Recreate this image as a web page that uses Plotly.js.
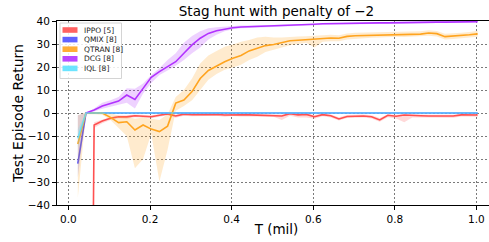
<!DOCTYPE html>
<html>
<head>
<meta charset="utf-8">
<script src="https://cdn.plot.ly/plotly-3.0.1.min.js"></script>
<style>
html, body { margin:0; padding:0; overflow:hidden; background:#fff; }
#chart { width:497px; height:242px; }
</style>
</head>
<body>
<div id="chart"></div>
<script>
// Sample times (millions of environment steps)
const T = [0.023,0.043,0.063,0.083,0.103,0.123,0.143,0.163,0.183,0.203,
           0.223,0.243,0.263,0.283,0.303,0.323,0.343,0.363,0.383,0.403,
           0.423,0.443,0.463,0.483,0.503,0.523,0.543,0.563,0.583,0.603,
           0.623,0.643,0.663,0.683,0.703,0.723,0.743,0.763,0.783,0.803,
           0.823,0.843,0.863,0.883,0.903,0.923,0.943,0.963,0.983,1.003];

const seriesNames = ["IPPO [5]", "QMIX [8]", "QTRAN [8]", "DCG [8]", "IQL [8]"];

const IPPO_mean  = [-450,-420,-5.2,-3.5,-2.3,-1.6,-1.7,-1.2,-1.4,-1.6,
                    -1.0,-0.4,-1.3,-0.5,-0.7,-0.6,-0.8,-0.6,-0.9,-0.7,
                    -0.8,-0.8,-0.9,-1.0,-0.9,-1.3,-0.3,-0.8,-0.6,-1.6,
                    -0.7,-1.2,-2.6,-1.5,-1.4,-1.3,-1.6,-3.0,-1.0,-1.4,
                    -0.9,-1.2,-1.2,-1.3,-1.3,-1.2,-1.3,-0.8,-0.9,-0.9];
const IPPO_upper = [-400,-380,-4.0,-2.8,-1.7,-1.0,-1.0,-0.6,-0.8,-1.0,
                    -0.5,0,-0.7,0,-0.2,-0.1,-0.3,-0.2,-0.4,-0.3,
                    -0.3,-0.3,-0.4,-0.5,-0.4,-0.6,0,-0.3,-0.2,-0.9,
                    -0.3,-0.6,-1.8,-0.9,-0.8,-0.7,-1.0,-2.2,-0.5,-0.8,
                    -0.4,-0.7,-0.7,-0.8,-0.8,-0.7,-0.8,-0.4,-0.5,-0.5];
const IPPO_lower = [-500,-460,-6.5,-4.5,-3.0,-2.3,-2.5,-1.9,-2.1,-2.3,
                    -1.6,-1.0,-2.1,-1.2,-1.4,-1.3,-1.5,-1.2,-1.6,-1.3,
                    -1.5,-1.5,-1.6,-1.8,-1.6,-3.0,-1.2,-2.0,-2.0,-2.5,
                    -1.4,-2.0,-3.3,-2.2,-2.1,-2.0,-2.4,-3.8,-1.8,-2.4,
                    -4.0,-2.0,-2.0,-2.1,-2.1,-2.0,-2.1,-1.5,-1.6,-1.6];

const QMIX_mean  = [-22,0,0,0,0,0,0,0,0,0, 0,0,0,0,0,0,0,0,0,0, 0,0,0,0,0,0,0,0,0,0, 0,0,0,0,0,0,0,0,0,0, 0,0,0,0,0,0,0,0,0,0];
const QMIX_upper = [-1,0,0,0,0,0,0,0,0,0, 0,0,0,0,0,0,0,0,0,0, 0,0,0,0,0,0,0,0,0,0, 0,0,0,0,0,0,0,0,0,0, 0,0,0,0,0,0,0,0,0,0];
const QMIX_lower = [-28,0,0,0,0,0,0,0,0,0, 0,0,0,0,0,0,0,0,0,0, 0,0,0,0,0,0,0,0,0,0, 0,0,0,0,0,0,0,0,0,0, 0,0,0,0,0,0,0,0,0,0];

const QTRAN_mean  = [-13.5,0,0,0,-1.9,-4.2,-3.8,-7.4,-5.2,-7.0,
                     -8.1,-5.7,4.3,5.6,9.3,15.0,18.5,20.5,22.3,23.8,
                     25.0,27.0,28.3,29.3,29.8,30.5,31.4,31.6,31.8,32.0,
                     32.5,32.6,32.5,33.3,33.6,33.7,33.9,34.0,34.1,34.2,
                     34.1,34.3,34.3,34.8,34.5,33.2,33.4,33.7,34.0,34.4];
const QTRAN_upper = [-1,0.3,0.3,0.3,0,-1.2,-1.5,-2.5,-2,-2.5,
                     -3,-0.5,7,10,15,21.5,25,27,28.8,29.8,
                     31,31.7,32.8,33.2,32.8,32.8,33.2,33.3,33.4,33.6,
                     34,34,33.8,34.6,34.9,35,35.1,35.2,35.2,35.3,
                     35.2,35.4,35.5,36,35.7,34.5,34.6,34.9,35.2,35.8];
const QTRAN_lower = [-37,-0.5,-0.5,-0.8,-3,-6.5,-10,-24,-20,-9,
                     -29.8,-16,1,3,5.5,10,14.5,17,18.8,19.8,
                     21,23,24.5,26.5,27.5,28.5,29.5,30,30.5,28.5,
                     31,31.2,31.2,32,32.3,32.5,32.7,32.8,33,33.1,
                     33,33.2,33.1,33.6,33.3,32,32.2,32.5,32.8,33.1];

const DCG_mean  = [null,0,1.3,3.0,4.2,5.2,7.8,5.9,10.7,15.5,
                   18.0,20.1,22.3,26.0,29.6,32.5,34.6,35.8,36.5,37.1,
                   37.4,37.5,37.6,37.7,37.8,37.9,38.0,38.2,38.4,38.6,
                   38.8,38.9,38.9,39.0,39.0,39.1,39.1,39.2,39.2,39.3,
                   39.3,39.4,39.4,39.5,39.5,39.5,39.6,39.6,39.7,39.7];
const DCG_upper = [null,0,2,4.5,5.5,7,10.8,10.5,12.8,16.5,
                   19.5,23,26,30.5,33.5,35.5,36.8,37.3,37.6,37.9,
                   38,38,38.1,38.2,38.3,38.4,38.5,38.7,38.9,39.1,
                   39.2,39.3,39.3,39.4,39.4,39.5,39.5,39.6,39.6,39.7,
                   39.7,39.8,39.8,39.9,39.9,39.9,40,40,40.1,40.1];
const DCG_lower = [null,0,0.6,1.8,2.8,3.5,4.5,2.0,8.5,13,
                   16.5,18.5,20.5,23,26,28.5,32,34,35.5,36.4,
                   36.9,37.0,37.1,37.2,37.3,37.4,37.5,37.7,37.9,38.1,
                   38.3,38.4,38.5,38.6,38.6,38.7,38.7,38.8,38.8,38.9,
                   38.9,39.0,39.0,39.1,39.1,39.1,39.2,39.2,39.3,39.3];

const IQL_mean  = [-11,0,0,0,0,0,0,0,0,0, 0,0,0,0,0,0,0,0,0,0, 0,0,0,0,0,0,0,0,0,0, 0,0,0,0,0,0,0,0,0,0, 0,0,0,0,0,0,0,0,0,0];
const IQL_upper = [-7,0,0,0,0,0,0,0,0,0, 0,0,0,0,0,0,0,0,0,0, 0,0,0,0,0,0,0,0,0,0, 0,0,0,0,0,0,0,0,0,0, 0,0,0,0,0,0,0,0,0,0];
const IQL_lower = [-15,0,0,0,0,0,0,0,0,0, 0,0,0,0,0,0,0,0,0,0, 0,0,0,0,0,0,0,0,0,0, 0,0,0,0,0,0,0,0,0,0, 0,0,0,0,0,0,0,0,0,0];

const xTicks = [0.0, 0.2, 0.4, 0.6, 0.8, 1.0];
const yTicks = [-40, -30, -20, -10, 0, 10, 20, 30, 40];

// styling
const colors = [[255,80,80],[80,80,255],[255,164,31],[178,50,255],[92,225,255]];
const lineAlpha = [1,1,1,1,0.8];
const allSeries = [
  [IPPO_mean, IPPO_lower, IPPO_upper],
  [QMIX_mean, QMIX_lower, QMIX_upper],
  [QTRAN_mean, QTRAN_lower, QTRAN_upper],
  [DCG_mean, DCG_lower, DCG_upper],
  [IQL_mean, IQL_lower, IQL_upper]
];
const rgba = (c,a) => `rgba(${c[0]},${c[1]},${c[2]},${a})`;

const traces = [];
allSeries.forEach((s, si) => {
  const [mean, lo, hi] = s;
  const idx = T.map((t,i)=>i).filter(i => mean[i] !== null);
  const x = idx.map(i => T[i]);
  traces.push({x, y: idx.map(i=>lo[i]), type:'scatter', mode:'lines', line:{width:0, color:rgba(colors[si],0)}, hoverinfo:'skip', showlegend:false});
  traces.push({x, y: idx.map(i=>hi[i]), type:'scatter', mode:'lines', line:{width:0, color:rgba(colors[si],0)}, fill:'tonexty', fillcolor:rgba(colors[si],0.22), hoverinfo:'skip', showlegend:false});
  traces.push({x, y: idx.map(i=>mean[i]), type:'scatter', mode:'lines', name: seriesNames[si], line:{width:1.6, color:rgba(colors[si], lineAlpha[si])}, showlegend:false});
});

// layout geometry (pixels)
const W = 497, H = 242, L = 57, R = 1, TOP = 21, B = 37;
const pw = W - L - R, ph = H - TOP - B;
const px2x = p => (p - L) / pw;
const py2y = p => 1 - (p - TOP) / ph;

const shapes = [];
const annotations = [];
// legend box
shapes.push({type:'rect', xref:'paper', yref:'paper', x0:px2x(60), x1:px2x(121.5), y0:py2y(78.5), y1:py2y(23),
  line:{color:'#d4d4d4', width:1}, fillcolor:'rgba(255,255,255,0.85)', layer:'above'});
const rowY = [30, 39.6, 49.2, 58.8, 68.4];
seriesNames.forEach((nm, i) => {
  shapes.push({type:'rect', xref:'paper', yref:'paper', x0:px2x(62.5), x1:px2x(77.5), y0:py2y(rowY[i]+2.8), y1:py2y(rowY[i]-2.8),
    line:{width:0}, fillcolor:rgba(colors[i], 0.9), layer:'above'});
  annotations.push({xref:'paper', yref:'paper', x:px2x(82), y:py2y(rowY[i]), xanchor:'left', yanchor:'middle',
    text:nm, showarrow:false, font:{family:'DejaVu Sans', size:7.5, color:'#222'}});
});

const layout = {
  width: W, height: H,
  margin: {l:L, r:R, t:TOP, b:B, pad:0},
  paper_bgcolor:'#fff', plot_bgcolor:'#fff',
  font: {family:'DejaVu Sans', size:10, color:'#000'},
  showlegend:false,
  title: {text:'Stag hunt with penalty of −2', font:{family:'DejaVu Sans', size:13.5, color:'#000'},
          xref:'paper', x:0.5, xanchor:'center', yref:'container', y:1-11.5/H, yanchor:'middle'},
  xaxis: {
    range:[-0.028, 1.048], tickvals:xTicks, ticktext:xTicks.map(v=>v.toFixed(1)),
    showgrid:true, gridcolor:'#7a7a7a', griddash:'2px,2px', gridwidth:1,
    zeroline:false, showline:true, linecolor:'#000', linewidth:1, mirror:true,
    ticks:'outside', ticklen:4, tickcolor:'#000', tickwidth:1,
    tickfont:{family:'DejaVu Sans', size:10.5, color:'#000'},
    title:{text:'T (mil)', font:{family:'DejaVu Sans', size:13.5, color:'#000'}, standoff:0}
  },
  yaxis: {
    range:[-40, 40], tickvals:yTicks,
    showgrid:true, gridcolor:'#7a7a7a', griddash:'2px,2px', gridwidth:1,
    zeroline:false, showline:true, linecolor:'#000', linewidth:1, mirror:false,
    ticks:'outside', ticklen:4, tickcolor:'#000', tickwidth:1,
    tickfont:{family:'DejaVu Sans', size:10.5, color:'#000'},
    title:{text:'Test Episode Return', font:{family:'DejaVu Sans', size:14, color:'#000'}, standoff:0}
  },
  shapes, annotations
};

Plotly.newPlot('chart', traces, layout, {displayModeBar:false, staticPlot:true});
</script>
</body>
</html>
